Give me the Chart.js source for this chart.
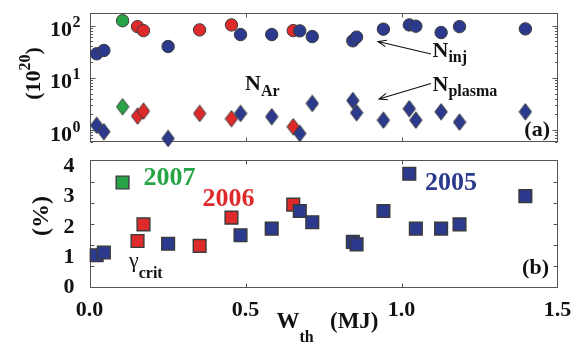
<!DOCTYPE html>
<html>
<head>
<meta charset="utf-8">
<script src="https://cdn.jsdelivr.net/npm/chart.js@4.4.1/dist/chart.umd.min.js"></script>
<style>
  body { margin: 0; background: #fff; width: 575px; height: 344px; overflow: hidden; position: relative; }
  canvas { position: absolute; left: 0; }
</style>
</head>
<body>
<canvas id="topChart" width="575" height="150" style="top:0"></canvas>
<canvas id="bottomChart" width="575" height="194" style="top:150px"></canvas>
<script>
// W_th (MJ) of each shot, per campaign
const wth2005 = [0.023, 0.046, 0.252, 0.484, 0.584, 0.674, 0.714, 0.844, 0.856, 0.942, 1.025, 1.046, 1.127, 1.186, 1.397];
const wth2006 = [0.154, 0.173, 0.353, 0.455, 0.653];
const wth2007 = [0.106];

// injected argon atoms (10^20)
const nInj2005 = [28.9, 33.4, 39.8, 67.4, 67.4, 79.3, 61.7, 51.1, 60.2, 85.4, 103, 97.4, 73.6, 95.7, 86.5];
const nInj2006 = [95.7, 80.3, 82.8, 103, 80.3];
const nInj2007 = [124];

// argon atoms in the plasma (10^20)
const nPlasma2005 = [1.23, 0.93, 0.69, 2.08, 1.80, 0.86, 3.23, 3.68, 2.14, 1.55, 2.56, 1.55, 2.24, 1.42, 2.24];
const nPlasma2006 = [1.85, 2.30, 2.08, 1.65, 1.16];
const nPlasma2007 = [2.79];

// gamma_crit (%)
const gamma2005 = [1.07, 1.16, 1.45, 1.73, 1.95, 2.53, 2.16, 1.51, 1.43, 2.53, 3.76, 1.95, 1.95, 2.09, 3.02];
const gamma2006 = [1.54, 2.09, 1.38, 2.31, 2.74];
const gamma2007 = [3.47];

const xTicks = [0, 0.5, 1.0, 1.5];
const nExponents = [0, 1, 2];
const gammaTicks = [0, 1, 2, 3, 4];
const gammaMinorTicks = [0.7, 1.4, 2.1, 2.8, 3.5];

const blue = '#2c3a8e', red = '#de2a2b', green = '#27a546', edge = '#3a3a3a';
const serif = '"Liberation Serif", "Times New Roman", serif';

const pts = (xs, ys) => xs.map((x, i) => ({x: x, y: ys[i]}));

// tall diamond marker (like matlab 'd')
function diamond(color) {
  const c = document.createElement('canvas');
  c.width = 14; c.height = 18;
  const g = c.getContext('2d');
  g.beginPath();
  g.moveTo(7, 0.8); g.lineTo(13.2, 9); g.lineTo(7, 17.2); g.lineTo(0.8, 9);
  g.closePath();
  g.fillStyle = color; g.fill();
  g.strokeStyle = edge; g.lineWidth = 1; g.stroke();
  return c;
}

function sub(ctx, base, s, x, y, size, subSize, dy, weight) {
  ctx.textAlign = 'left';
  ctx.textBaseline = 'alphabetic';
  ctx.font = (weight || 'bold') + ' ' + size + 'px ' + serif;
  ctx.fillText(base, x, y);
  const w = ctx.measureText(base).width;
  ctx.font = 'bold ' + subSize + 'px ' + serif;
  ctx.fillText(s, x + w, y + dy);
}

function arrow(ctx, x1, y1, x2, y2) {
  const a = Math.atan2(y2 - y1, x2 - x1);
  ctx.beginPath();
  ctx.moveTo(x1, y1); ctx.lineTo(x2, y2);
  ctx.moveTo(x2 - 9 * Math.cos(a - 0.38), y2 - 9 * Math.sin(a - 0.38));
  ctx.lineTo(x2, y2);
  ctx.lineTo(x2 - 9 * Math.cos(a + 0.38), y2 - 9 * Math.sin(a + 0.38));
  ctx.stroke();
}

// box, inward ticks and the texts of each panel
const panelDeco = {
  id: 'panelDeco',
  beforeDatasetsDraw(chart, args, opts) {
    const {ctx, chartArea: a, scales: {x, y}} = chart;
    ctx.save();
    ctx.strokeStyle = '#555';
    ctx.lineWidth = 1;
    const l = Math.round(a.left) + 0.5, r = Math.round(a.right) - 0.5;
    const t = Math.round(a.top) + 0.5, b = Math.round(a.bottom) - 0.5;
    ctx.strokeRect(l, t, r - l, b - t);
    ctx.beginPath();
    xTicks.slice(1, -1).forEach(v => {
      const px = Math.round(x.getPixelForValue(v)) + 0.5;
      ctx.moveTo(px, b); ctx.lineTo(px, b - 4);
      ctx.moveTo(px, t); ctx.lineTo(px, t + 4);
    });
    opts.yTicks.forEach(([v, len]) => {
      const py = Math.round(y.getPixelForValue(v)) + 0.5;
      ctx.moveTo(l, py); ctx.lineTo(l + len, py);
      ctx.moveTo(r, py); ctx.lineTo(r - len, py);
    });
    ctx.stroke();
    ctx.restore();
  },
  afterDatasetsDraw(chart, args, opts) {
    const ctx = chart.ctx;
    ctx.save();
    ctx.fillStyle = '#111';
    ctx.strokeStyle = '#111';
    ctx.lineWidth = 1.1;
    opts.draw(ctx, chart);
    ctx.restore();
  }
};

const logTicks = [];
[-1, 0, 1, 2].forEach(e => {
  for (let m = 1; m <= 9; m++) {
    const v = m * Math.pow(10, e);
    if (v > 0.591 && v < 172) logTicks.push([v, m === 1 ? 5 : 2.5]);
  }
});

new Chart(document.getElementById('topChart'), {
  type: 'scatter',
  data: {
    datasets: [
      {data: pts(wth2005, nInj2005), pointStyle: 'circle', pointRadius: 6.2, backgroundColor: blue, borderColor: edge, borderWidth: 1, clip: false},
      {data: pts(wth2005, nPlasma2005), pointStyle: diamond(blue), pointRadius: 7, clip: false},
      {data: pts(wth2006, nInj2006), pointStyle: 'circle', pointRadius: 6.2, backgroundColor: red, borderColor: edge, borderWidth: 1, clip: false},
      {data: pts(wth2006, nPlasma2006), pointStyle: diamond(red), pointRadius: 7, clip: false},
      {data: pts(wth2007, nInj2007), pointStyle: 'circle', pointRadius: 6.2, backgroundColor: green, borderColor: edge, borderWidth: 1, clip: false},
      {data: pts(wth2007, nPlasma2007), pointStyle: diamond(green), pointRadius: 7, clip: false}
    ]
  },
  options: {
    responsive: false,
    animation: false,
    events: [],
    layout: {padding: {left: 0, right: 17.5, top: 13.3, bottom: 7.3}},
    plugins: {
      legend: {display: false},
      tooltip: {enabled: false},
      panelDeco: {
        yTicks: logTicks,
        draw(ctx, chart) {
          const y = chart.scales.y;
          // y tick labels 10^k
          nExponents.forEach(e => {
            const py = y.getPixelForValue(Math.pow(10, e));
            ctx.font = 'bold 22px ' + serif;
            ctx.textAlign = 'right';
            ctx.textBaseline = 'alphabetic';
            ctx.fillText('10', 72, py + 10.5);
            ctx.font = 'bold 16px ' + serif;
            ctx.textAlign = 'left';
            ctx.fillText(String(e), 72.5, py + 1.5);
          });
          // rotated unit label (10^20)
          ctx.save();
          ctx.translate(40, 73.5);
          ctx.rotate(-Math.PI / 2);
          ctx.font = 'bold 22px ' + serif;
          const w1 = ctx.measureText('(10').width, w3 = ctx.measureText(')').width;
          ctx.font = 'bold 16px ' + serif;
          const w2 = ctx.measureText('20').width;
          let u = -(w1 + w2 + w3) / 2;
          ctx.textAlign = 'left';
          ctx.font = 'bold 22px ' + serif;
          ctx.fillText('(10', u, 0);
          ctx.font = 'bold 16px ' + serif;
          ctx.fillText('20', u + w1, -10);
          ctx.font = 'bold 22px ' + serif;
          ctx.fillText(')', u + w1 + w2, 0);
          ctx.restore();

          sub(ctx, 'N', 'Ar', 245, 90, 22, 16, 6);
          sub(ctx, 'N', 'inj', 432.5, 57, 22, 16, 4.5);
          sub(ctx, 'N', 'plasma', 432.5, 91, 22, 16, 5);
          arrow(ctx, 431, 54, 378, 41.5);
          arrow(ctx, 431, 83.5, 379, 99);

          ctx.font = 'bold 22px ' + serif;
          ctx.textAlign = 'right';
          ctx.fillText('(a)', 550, 136);
        }
      }
    },
    scales: {
      x: {type: 'linear', min: 0, max: 1.5, display: false},
      y: {
        type: 'logarithmic', min: 0.591, max: 172,
        ticks: {display: false},
        grid: {display: false},
        border: {display: false},
        afterFit: s => { s.width = 89.5; s.paddingTop = 0; s.paddingBottom = 0; }
      }
    }
  },
  plugins: [panelDeco]
});

new Chart(document.getElementById('bottomChart'), {
  type: 'scatter',
  data: {
    datasets: [
      {data: pts(wth2005, gamma2005), pointStyle: 'rect', pointRadius: 9, backgroundColor: blue, borderColor: edge, borderWidth: 1.4, clip: false},
      {data: pts(wth2006, gamma2006), pointStyle: 'rect', pointRadius: 9, backgroundColor: red, borderColor: edge, borderWidth: 1.4, clip: false},
      {data: pts(wth2007, gamma2007), pointStyle: 'rect', pointRadius: 9, backgroundColor: green, borderColor: edge, borderWidth: 1.4, clip: false}
    ]
  },
  options: {
    responsive: false,
    animation: false,
    events: [],
    layout: {padding: {left: 0, right: 17.5, top: 7.3, bottom: 0}},
    plugins: {
      legend: {display: false},
      tooltip: {enabled: false},
      panelDeco: {
        yTicks: gammaMinorTicks.map(v => [v, 4]),
        draw(ctx) {
          ctx.font = 'bold 26px ' + serif;
          ctx.textAlign = 'left';
          ctx.fillStyle = green; ctx.fillText('2007', 143.5, 35);
          ctx.fillStyle = red; ctx.fillText('2006', 202.5, 55.5);
          ctx.fillStyle = blue; ctx.fillText('2005', 425, 40);
          ctx.fillStyle = '#111';

          sub(ctx, '\u03b3', 'crit', 129, 116.5, 22, 16, 11, 'normal');

          ctx.font = 'bold 22px ' + serif;
          ctx.textAlign = 'right';
          ctx.fillText('(b)', 549, 124);

          // rotated (%)
          ctx.save();
          ctx.translate(48, 66);
          ctx.rotate(-Math.PI / 2);
          ctx.font = 'bold 24px ' + serif;
          ctx.textAlign = 'center';
          ctx.fillText('(%)', 0, 0);
          ctx.restore();

          // x title W_th (MJ)
          sub(ctx, 'W', 'th', 276.5, 178.3, 23, 16, 14);
          ctx.font = 'bold 23px ' + serif;
          ctx.textAlign = 'left';
          ctx.fillText('(MJ)', 330, 178.3);
        }
      }
    },
    scales: {
      x: {
        type: 'linear', min: 0, max: 1.5,
        afterBuildTicks: s => { s.ticks = xTicks.map(v => ({value: v})); },
        ticks: {callback: v => v.toFixed(1), color: '#111', font: {family: serif, size: 22, weight: 'bold'}, padding: 1, maxRotation: 0, autoSkip: false},
        grid: {display: false},
        border: {display: false},
        afterFit: s => { s.height = 56.3; s.paddingLeft = 0; s.paddingRight = 0; }
      },
      y: {
        type: 'linear', min: 0, max: 4.2,
        afterBuildTicks: s => { s.ticks = gammaTicks.map(v => ({value: v})); },
        ticks: {callback: v => String(v), color: '#111', font: {family: serif, size: 22, weight: 'bold'}, padding: 7},
        grid: {display: false},
        border: {display: false},
        afterFit: s => { s.width = 89.5; s.paddingTop = 0; s.paddingBottom = 0; }
      }
    }
  },
  plugins: [panelDeco]
});
</script>
</body>
</html>
